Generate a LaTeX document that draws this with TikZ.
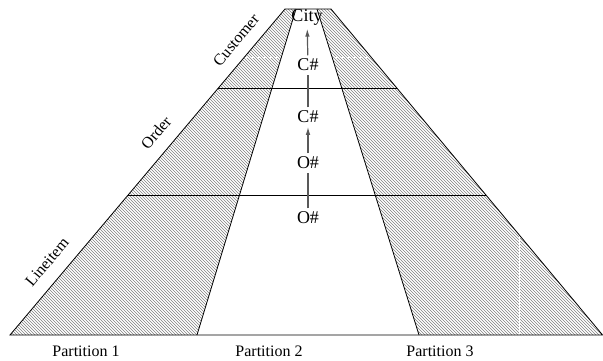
\documentclass[tikz,border=0pt]{standalone}
\usepackage{fontspec}
\setmainfont{Liberation Serif}
\usetikzlibrary{patterns,arrows.meta,calc}
\begin{document}
\begin{tikzpicture}[x=1pt,y=-1pt,
  txt/.style={font=\fontsize{16}{18}\selectfont, inner sep=1.5pt},
  coltxt/.style={font=\fontsize{18}{20}\selectfont, inner sep=3.5pt},
  edgeline/.style={draw=black, line width=0.8pt},
  hatch/.style={pattern=north west lines, pattern color=black!50},
  linkline/.style={draw=black!65, line width=1.2pt},
  uparrow/.style={linkline, -{Latex[length=8pt,width=4.5pt]}}]
\useasboundingbox (0,0) rectangle (603,360);
% corner coordinates
\coordinate (BL) at (10,335);
\coordinate (BR) at (602.6,335);
\coordinate (TL) at (285,9);
\coordinate (TR) at (331,9);
\coordinate (ILb) at (197,335);
\coordinate (ILt) at (296,9);
\coordinate (IRb) at (419,335);
\coordinate (IRt) at (317,9);
% hatched side regions
\fill[hatch] (BL) -- (TL) -- (ILt) -- (ILb) -- cycle;
\fill[hatch] (IRb) -- (IRt) -- (TR) -- (BR) -- cycle;
% faint white seams
\coordinate (WL) at ($(BL)!0.8528!(TL)$);
\coordinate (WR) at ($(BR)!0.8528!(TR)$);
\draw[white, line width=0.7pt, dash pattern=on 4pt off 2pt] (WL) -- (WR);
\coordinate (W1) at (519,227);
\coordinate (W2) at (519,334);
\draw[white, line width=0.7pt] (W1) -- (W2);
% outline
\draw[edgeline] (BL) -- (TL) -- (TR) -- (BR) -- cycle;
\draw[edgeline] (ILb) -- (ILt);
\draw[edgeline] (IRb) -- (IRt);
% table boundaries
\coordinate (H1L) at ($(BL)!0.7577!(TL)$);
\coordinate (H1R) at ($(BR)!0.7577!(TR)$);
\coordinate (H2L) at ($(BL)!0.4294!(TL)$);
\coordinate (H2R) at ($(BR)!0.4294!(TR)$);
\draw[edgeline] (H1L) -- (H1R);
\draw[edgeline] (H2L) -- (H2R);
% table labels
\node[txt, rotate=50] (cust) at (236,40) {Customer};
\node[txt, rotate=50] (ord) at (156,133) {Order};
\node[txt, rotate=50] (line) at (47,262) {Lineitem};
% column labels
\node[coltxt] (city) at (307,17) {City};
\node[coltxt] (c1) at (308,65) {C\#};
\node[coltxt] (c2) at (308,117) {C\#};
\node[coltxt] (o1) at (308,163) {O\#};
\node[coltxt] (o2) at (308,218) {O\#};
\draw[uparrow] (c1) -- (city);
\draw[linkline] (c2) -- (c1);
\draw[uparrow] (o1) -- (c2);
\draw[linkline] (o2) -- (o1);
% partitions
\node[txt] (p1) at (86,351) {Partition 1};
\node[txt] (p2) at (269,351) {Partition 2};
\node[txt] (p3) at (440,351) {Partition 3};
\end{tikzpicture}
\end{document}
